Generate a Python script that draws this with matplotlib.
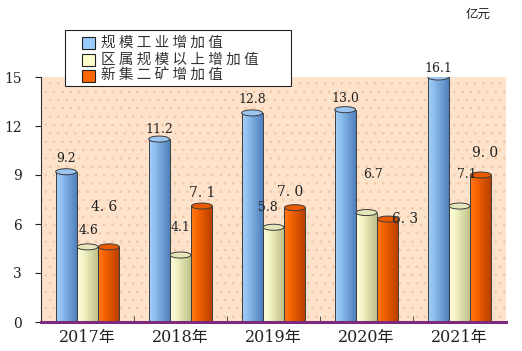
import numpy as np
import matplotlib
matplotlib.use('Agg')
import matplotlib.pyplot as plt
from matplotlib.patches import Rectangle, Ellipse
from matplotlib.colors import to_rgb

# ---- data ----
years = ['2017年', '2018年', '2019年', '2020年', '2021年']
industrial = [9.2, 11.2, 12.8, 13.0, 16.1]
district = [4.6, 4.1, 5.8, 6.7, 7.1]
xinji = [4.6, 7.1, 7.0, 6.3, 9.0]
series_names = ['规模工业增加值', '区属规模以上增加值', '新集二矿增加值']
yticks = [0, 3, 6, 9, 12, 15]
unit = '亿元'

# ---- styles ----
plt.rcParams['hatch.linewidth'] = 0.6
YMAX = 15
bar_w = 0.225
offsets = [-0.23, 0.0, 0.23]
grads = [
    ('#a6d0fa', '#8cbdee', '#4f80bc'),
    ('#fdfde0', '#f4f4c6', '#c0c08a'),
    ('#ff7a1a', '#f86400', '#b84000'),
]
tops = ['#9cc6f0', '#e6e6bc', '#e85a00']
legend_colors = ['#99ccff', '#ffffcc', '#ff6600']
edge = '#3c3c3c'
lab_dx = [[0, 0, 0, 0, 0],
          [0.01, 0.0, -0.065, 0.075, 0.08],
          [-0.05, 0.005, -0.05, 0.18, 0.05]]
lab_dy = [[0.84, 0.56, 0.8, 0.7, 0.55],
          [1.0, 1.7, 1.18, 2.3, 1.9],
          [2.44, 0.8, 0.96, 0.0, 1.35]]
lab_size = [9, 9, 10]

num_font = ['DejaVu Serif', 'Noto Sans CJK SC']
W, H = 522, 351

fig = plt.figure(figsize=(W/100, H/100), dpi=100)
ax = fig.add_axes([41/W, 1-322/H, (506-41)/W, (322-77)/H])
ax.set_xlim(-0.5, 4.5)
ax.set_ylim(0, YMAX)
ax.patch.set_visible(False)

bg = Rectangle((0, 0), 1, 1, transform=ax.transAxes, facecolor='#fde3cc',
               edgecolor='#f5c4a0', hatch='..', lw=0, zorder=0)
ax.add_patch(bg)

def gradient(cols, n=64):
    c0, c1, c2 = [np.array(to_rgb(c)) for c in cols]
    t = np.linspace(0, 1, n)
    arr = np.zeros((1, n, 3))
    for i, tt in enumerate(t):
        if tt < 0.3:
            f = tt/0.3
            arr[0, i] = c0*(1-f) + c1*f
        else:
            f = (tt-0.3)/0.7
            arr[0, i] = c1*(1-f) + c2*f
    return arr

series = [industrial, district, xinji]
ell_h = 0.37
for s, vals in enumerate(series):
    g = gradient(grads[s])
    for i, v in enumerate(vals):
        x = i + offsets[s]
        h = min(v, YMAX)
        rect = Rectangle((x-bar_w/2, 0), bar_w, h, facecolor='none',
                         edgecolor=edge, lw=0.7, zorder=3)
        ax.add_patch(rect)
        im = ax.imshow(g, extent=(x-bar_w/2, x+bar_w/2, 0, h), aspect='auto',
                       zorder=2.5, interpolation='bilinear')
        clip = Rectangle((x-bar_w/2, 0), bar_w, h, transform=ax.transData)
        im.set_clip_path(clip)
        ax.add_patch(Ellipse((x, h), bar_w, ell_h, facecolor=tops[s],
                             edgecolor=edge, lw=0.7, zorder=4))
        if s == 2:
            txt = f'{v:.1f}'.replace('.', '. ')
        else:
            txt = f'{v:.1f}'
        ax.text(x + lab_dx[s][i], h + lab_dy[s][i], txt, ha='center', va='center',
                fontsize=lab_size[s], family=num_font, color='#222222',
                zorder=6, clip_on=False)

ax.set_xlim(-0.5, 4.5)
ax.set_ylim(0, YMAX)

# floor
ax.axhline(0, color='#7d2a7d', lw=2.2, zorder=5, clip_on=False)

for sp in ['top', 'right', 'bottom']:
    ax.spines[sp].set_visible(False)
ax.spines['left'].set_color('#333333')
ax.spines['left'].set_linewidth(0.8)
ax.set_yticks(yticks)
ax.set_yticklabels([str(t) for t in yticks], family=num_font, fontsize=10)
ax.tick_params(axis='y', direction='out', length=4, pad=10, colors='#222222')
ax.set_xticks(range(len(years)))
ax.set_xticklabels(years, family=num_font, fontsize=11.5)
ax.tick_params(axis='x', length=0, pad=5, colors='#222222')
ax.set_xticks([0.5, 1.5, 2.5, 3.5], minor=True)
ax.tick_params(axis='x', which='minor', direction='in', length=4, color='#333333')

fig.text(478/W, 1-14/H, unit, ha='center', va='center', fontsize=9,
         family=['Noto Sans CJK SC'], color='#222222')

# legend (manual, figure pixel coordinates)
def fx(px):
    return px / W

def fy(py):
    return 1 - py / H

fig.patches.append(Rectangle((fx(65), fy(86)), fx(291) - fx(65), fy(30) - fy(86),
                             transform=fig.transFigure, facecolor='white',
                             edgecolor='#222222', lw=0.8, zorder=10))
row_y = [43, 60, 76]
for k, name in enumerate(series_names):
    fig.patches.append(Rectangle((fx(82), fy(row_y[k] + 6)), fx(95) - fx(82),
                                 fy(row_y[k] - 6) - fy(row_y[k] + 6),
                                 transform=fig.transFigure, facecolor=legend_colors[k],
                                 edgecolor='#222222', lw=0.8, zorder=11))
    fig.text(fx(101), fy(row_y[k]), ' '.join(name), ha='left', va='center',
             fontsize=10.5, family=['Noto Sans CJK SC'], color='#333333', zorder=12)

fig.savefig('out.png', dpi=100)
